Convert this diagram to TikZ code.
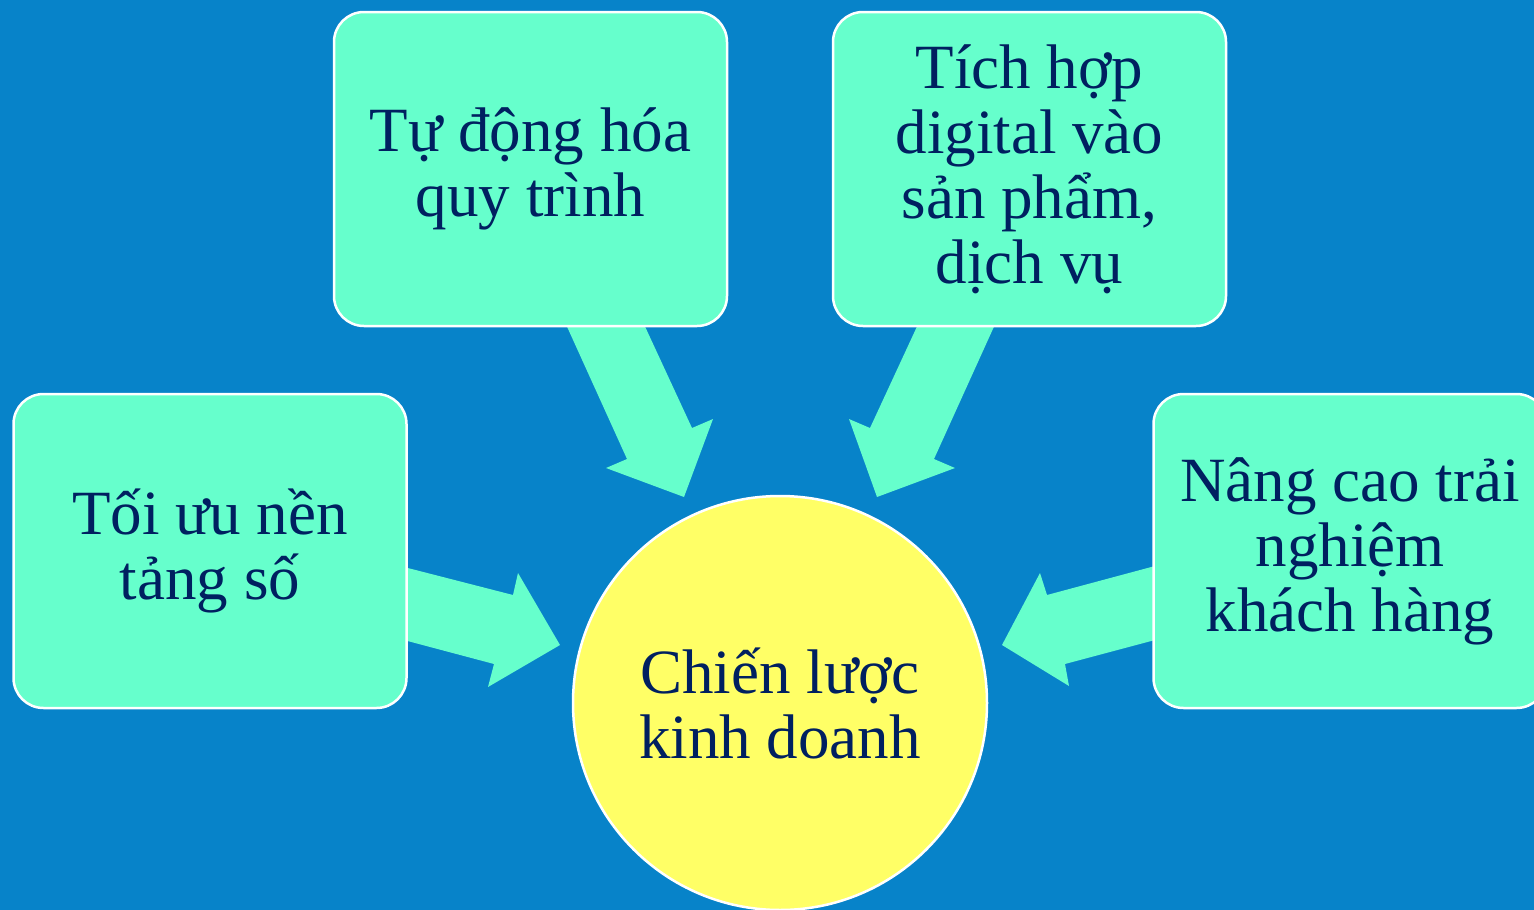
\documentclass[tikz,border=0pt]{standalone}
\usepackage{fontspec}
\setmainfont{Liberation Serif}
\definecolor{bg}{HTML}{0783C9}
\definecolor{mint}{HTML}{66FFCC}
\definecolor{sun}{HTML}{FFFF66}
\definecolor{ink}{HTML}{002060}
\begin{document}
\begin{tikzpicture}[x=1pt,y=-1pt,
  box/.style={draw=white, line width=2.5pt, fill=mint, rounded corners=30pt,
    minimum width=393pt, minimum height=314pt, align=center, text=ink,
    font=\fontsize{63}{65}\selectfont, inner sep=0pt},
  hub/.style={circle, draw=white, line width=2.5pt, fill=sun, minimum size=414pt,
    align=center, text=ink, font=\fontsize{63}{65}\selectfont, inner sep=0pt},
  blockarrow/.style={fill=mint, draw=none}]
\useasboundingbox (0,0) rectangle (1534,910);
\fill[bg] (0,0) rectangle (1534,910);
\clip (0,0) rectangle (1534,910);

% block arrows (drawn behind the boxes)
\fill[blockarrow] (400,566) -- (513,595) -- (518,573) -- (560,645) -- (488,687) -- (494,664) -- (400,639) -- cycle;
\fill[blockarrow] (1155,566) -- (1047,595) -- (1040,573) -- (1002,645) -- (1069,686) -- (1065,664) -- (1155,640) -- cycle;
\fill[blockarrow] (564,320) -- (642,320) -- (692,428) -- (713,419) -- (684,497) -- (606,468) -- (627,459) -- cycle;
\fill[blockarrow] (997,320) -- (920,320) -- (870,428) -- (849,419) -- (877,497) -- (955,468) -- (934,459) -- cycle;

\node[box] (auto) at (530.5,169) {Tự động hóa\\quy trình};
\node[box] (digi) at (1029.5,169) {Tích hợp\\digital vào\\sản phẩm,\\dịch vụ};
\node[box] (nen) at (210,551) {Tối ưu nền\\tảng số};
\node[box] (kh) at (1350,551) {Nâng cao trải\\nghiệm\\khách hàng};
\node[hub] (hub) at (780,703) {Chiến lược\\kinh doanh};
\end{tikzpicture}
\end{document}
